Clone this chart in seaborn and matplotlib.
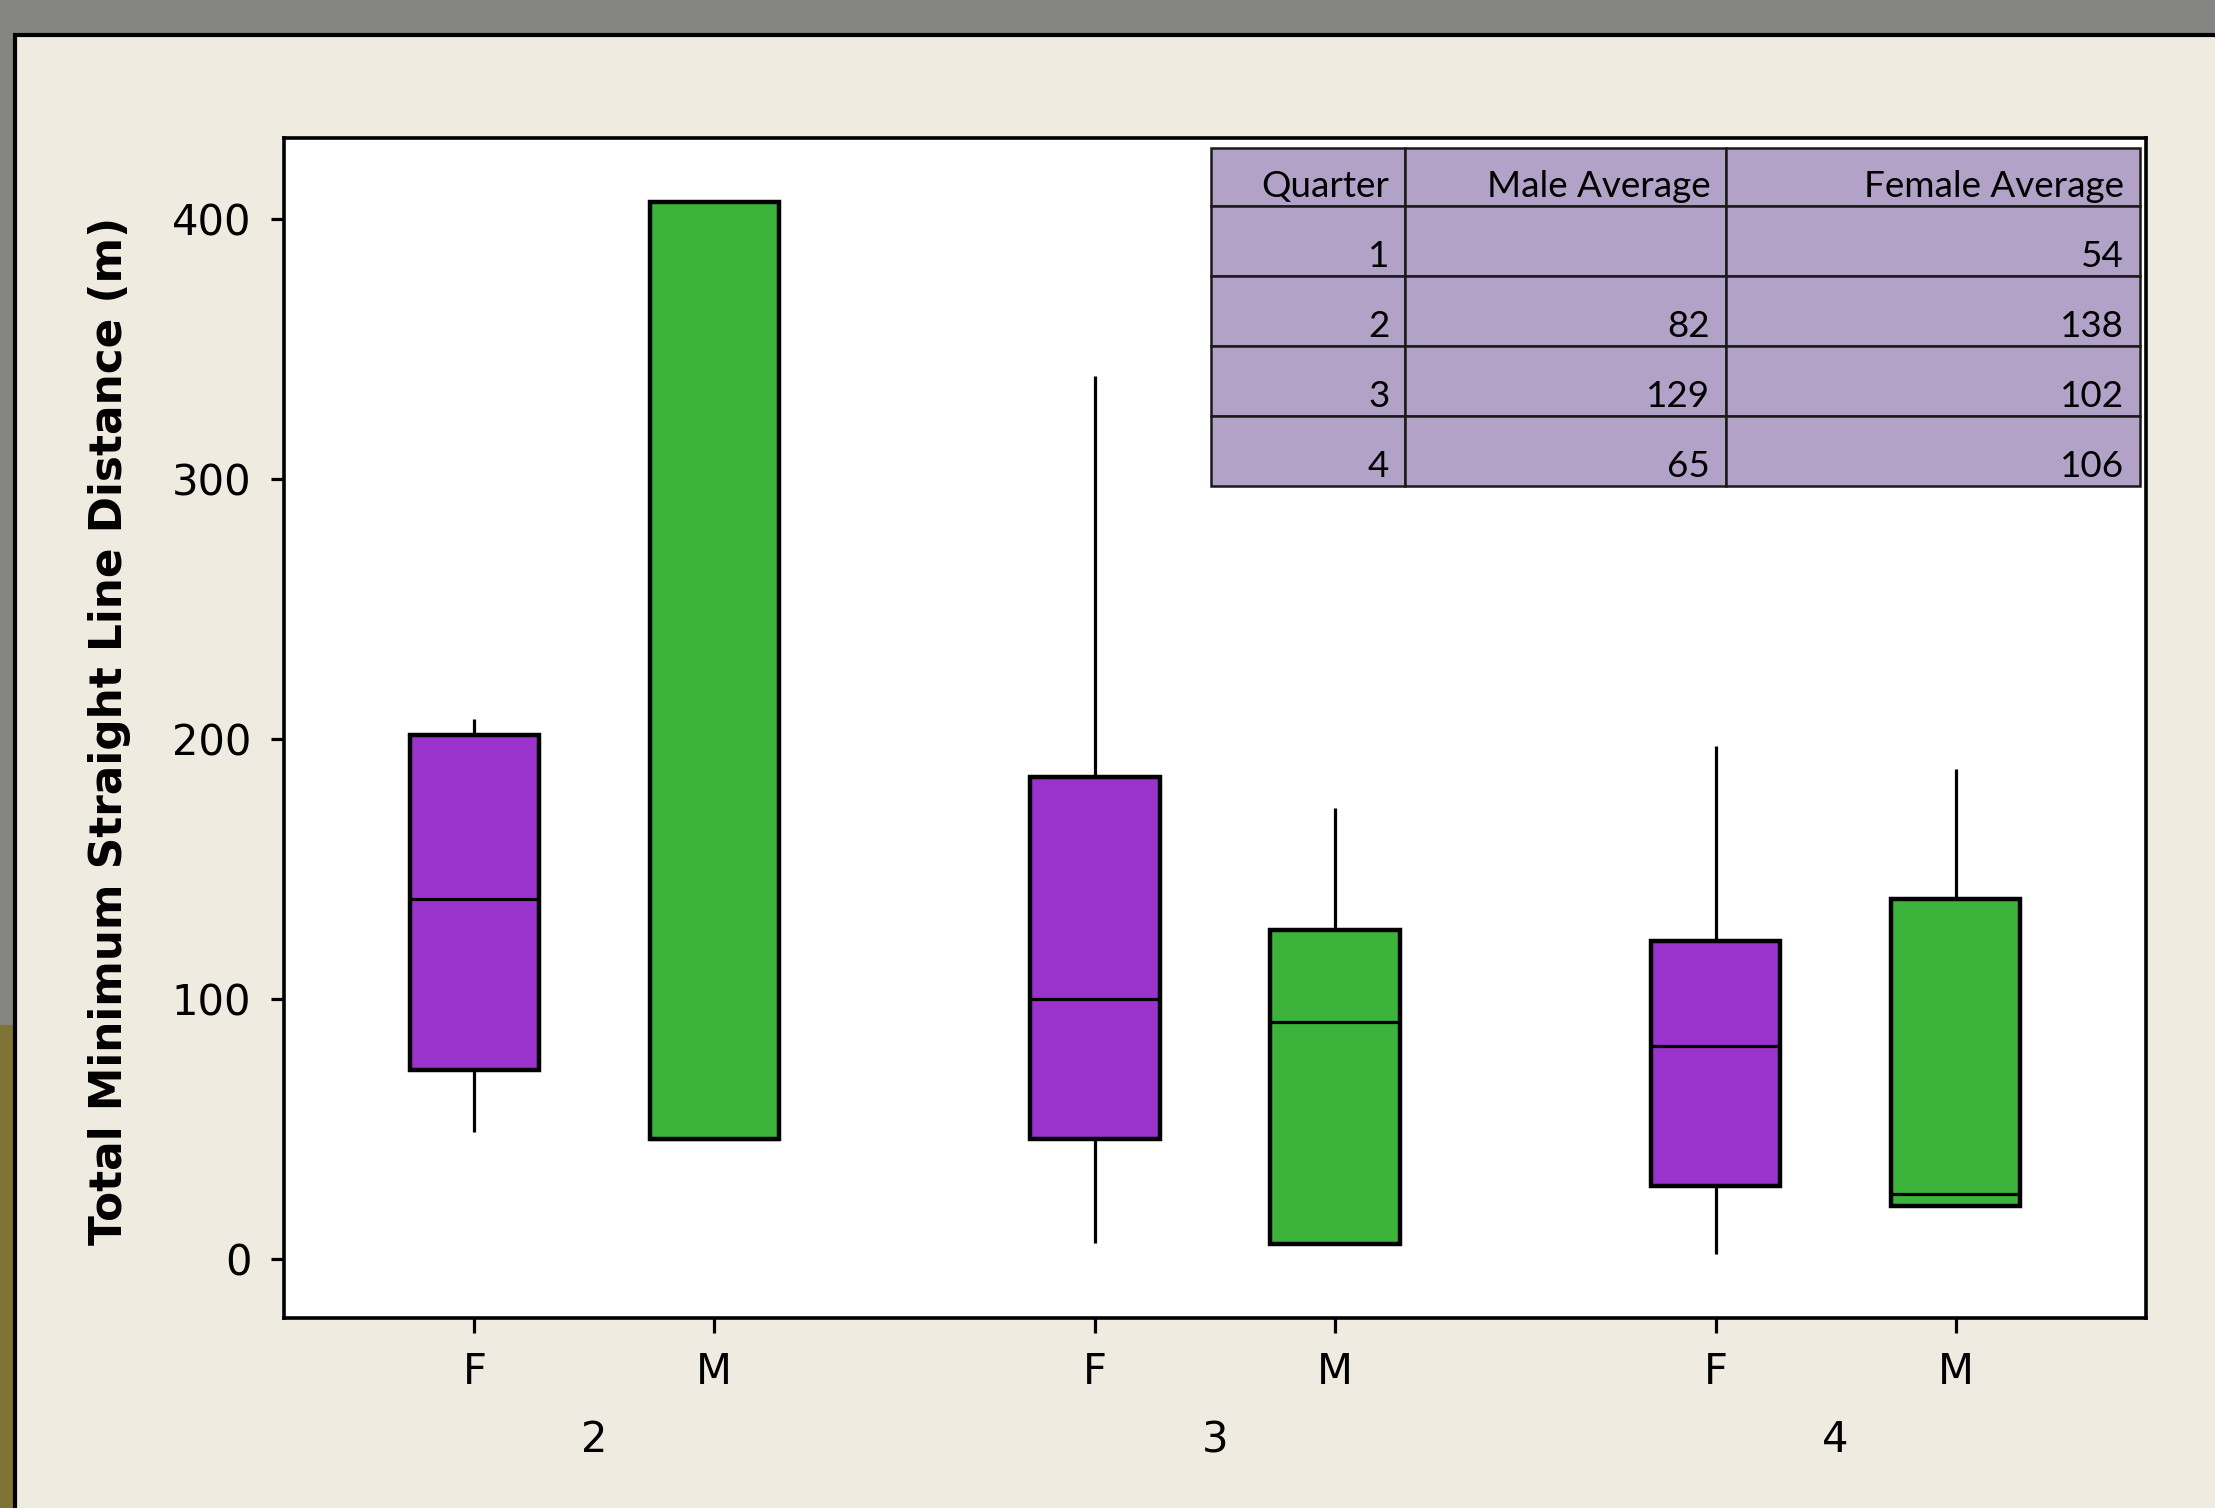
import numpy as np
import pandas as pd
import matplotlib
matplotlib.use("Agg")
import matplotlib.pyplot as plt
from matplotlib.patches import Rectangle
from matplotlib.transforms import blended_transform_factory
import seaborn as sns

# ---- data (five-number summaries: min, q1, median, q3, max)
quarters = ["2", "3", "4"]
sexes = ["F", "M"]
f_q2 = [48.9, 72.8, 138.6, 201.6, 207.6]
m_q2 = [46.2, 46.2, 46.2, 406.5, 406.5]
f_q3 = [6.5, 46.2, 100.0, 185.3, 339.7]
m_q3 = [6.0, 6.0, 91.3, 126.6, 173.4]
f_q4 = [2.2, 28.3, 82.1, 122.3, 197.3]
m_q4 = [20.7, 20.7, 25.0, 138.6, 188.6]

y_ticks = [0, 100, 200, 300, 400]
y_label = "Total Minimum Straight Line Distance (m)"

tbl_header = ["Quarter", "Male Average", "Female Average"]
tbl_quarter = ["1", "2", "3", "4"]
tbl_male = ["", "82", "129", "65"]
tbl_female = ["54", "138", "102", "106"]

groups = {("2", "F"): f_q2, ("2", "M"): m_q2, ("3", "F"): f_q3,
          ("3", "M"): m_q3, ("4", "F"): f_q4, ("4", "M"): m_q4}
rows = []
for (q, s), vals in groups.items():
    for v in vals:
        rows.append({"quarter": q, "sex": s, "distance": v})
df = pd.DataFrame(rows)

W, H = 2215, 1508
fig = plt.figure(figsize=(W / 100, H / 100), dpi=100)
fig.patch.set_facecolor("#858583")

# left textured strip (olive lower part)
fig.add_artist(Rectangle((0, 0), 14 / W, 0.32, transform=fig.transFigure,
                         facecolor="#7f7436", edgecolor="none", zorder=0))
# beige panel
fig.add_artist(Rectangle((15 / W, -0.05), 1.1, 1 - 35 / H + 0.05,
                         transform=fig.transFigure, facecolor="#efebe1",
                         edgecolor="black", linewidth=3.0, zorder=0))

ax_l, ax_r, ax_t, ax_b = 284, 2146, 138, 1318
ax = fig.add_axes([ax_l / W, 1 - ax_b / H, (ax_r - ax_l) / W, (ax_b - ax_t) / H])
ax.set_facecolor("white")

width = 0.773
sns.boxplot(data=df, x="quarter", y="distance", hue="sex", order=quarters,
            hue_order=sexes, palette={"F": "#9933cc", "M": "#3cb43c"},
            saturation=1, width=width, gap=0.46, whis=(0, 100), showcaps=False,
            linecolor="black", linewidth=3.2, legend=False, ax=ax,
            whiskerprops={"linewidth": 2.3},
            medianprops={"linewidth": 2.3, "color": "black"})

ax.set_xlim(-0.5, 2.5)
ax.set_ylim(-22.5, 431)
ax.set_yticks(y_ticks)
ax.set_yticklabels([str(t) for t in y_ticks])

off = width / 4
xpos, xlab = [], []
for i, q in enumerate(quarters):
    xpos += [i - off, i + off]
    xlab += sexes
ax.set_xticks(xpos)
ax.set_xticklabels(xlab)
ax.set_xlabel("")
ax.set_ylabel("")

for sp in ax.spines.values():
    sp.set_visible(True)
    sp.set_linewidth(2.6)
    sp.set_color("black")
ax.tick_params(axis="y", direction="out", length=9.5, width=2.3,
               labelsize=30, pad=14, colors="black")
ax.tick_params(axis="x", direction="out", length=11, width=2.3,
               labelsize=30, pad=13, colors="black")
ax.grid(False)

trans = blended_transform_factory(ax.transData, ax.transAxes)
for i, q in enumerate(quarters):
    ax.text(i, -0.086, q, transform=trans, ha="center", va="top", fontsize=30)

fig.text(110 / W, 1 - 731 / H, y_label, rotation=90, ha="center", va="center",
         fontsize=31.5, fontweight="bold")

# ---- table
tx0, tx1 = (1211 - ax_l) / (ax_r - ax_l), (2140 - ax_l) / (ax_r - ax_l)
ty_top = (ax_b - 148) / (ax_b - ax_t)
col_frac = [0.209, 0.3455, 0.4455]
head_h = 58 / (ax_b - ax_t)
row_h = 70 / (ax_b - ax_t)
col_edges = [tx0]
for f in col_frac:
    col_edges.append(col_edges[-1] + f * (tx1 - tx0))
cells = [tbl_header] + [list(r) for r in zip(tbl_quarter, tbl_male, tbl_female)]
y = ty_top
pad_x = 16 / (ax_r - ax_l)
for r, rowvals in enumerate(cells):
    h = head_h if r == 0 else row_h
    y0 = y - h
    for c, val in enumerate(rowvals):
        ax.add_patch(Rectangle((col_edges[c], y0), col_edges[c + 1] - col_edges[c], h,
                               transform=ax.transAxes, facecolor="#b3a2c7",
                               edgecolor="#1a1a1a", linewidth=1.8, zorder=5,
                               clip_on=False))
        ax.text(col_edges[c + 1] - pad_x, y0 + 9 / (ax_b - ax_t), val,
                transform=ax.transAxes, ha="right", va="baseline",
                fontsize=26.5, family="Lato", color="black", zorder=6)
    y = y0

fig.savefig("out.png", dpi=100, facecolor=fig.get_facecolor())
